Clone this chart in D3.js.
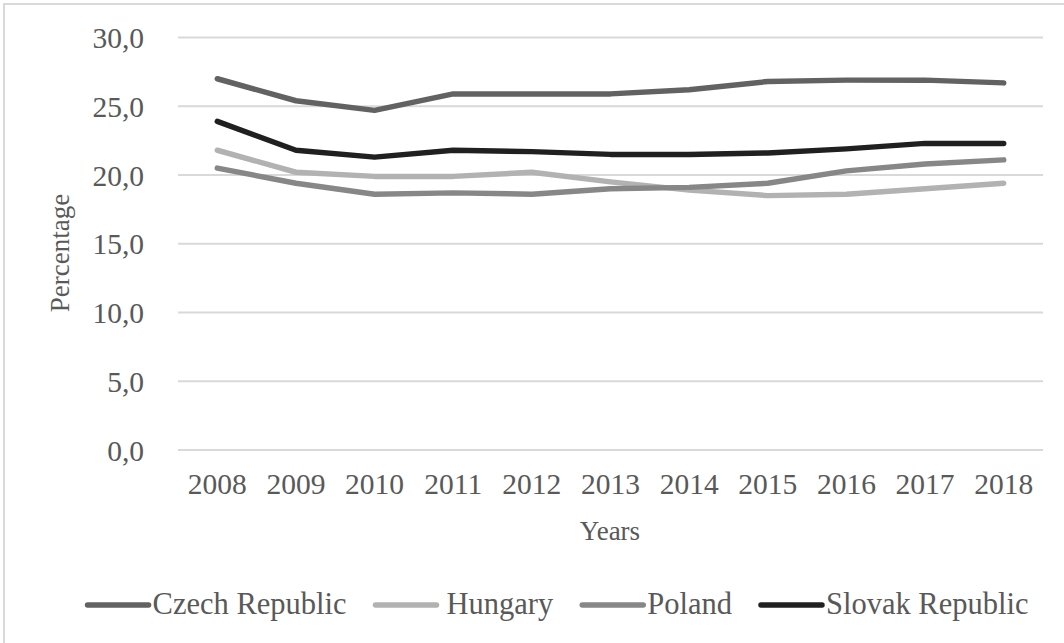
<!DOCTYPE html>
<html>
<head>
<meta charset="utf-8">
<script src="https://cdn.jsdelivr.net/npm/d3@7"></script>
<style>
  body { margin: 0; background: #fff; }
  text { font-family: "Liberation Serif", "Times New Roman", serif; fill: #595959; }
</style>
</head>
<body>
<div id="chart"></div>
<script>
const years = ["2008", "2009", "2010", "2011", "2012", "2013", "2014", "2015", "2016", "2017", "2018"];
const czech = [27.0, 25.4, 24.7, 25.9, 25.9, 25.9, 26.2, 26.8, 26.9, 26.9, 26.7];
const hungary = [21.8, 20.2, 19.9, 19.9, 20.2, 19.5, 18.9, 18.5, 18.6, 19.0, 19.4];
const poland = [20.5, 19.4, 18.6, 18.7, 18.6, 19.0, 19.1, 19.4, 20.3, 20.8, 21.1];
const slovak = [23.9, 21.8, 21.3, 21.8, 21.7, 21.5, 21.5, 21.6, 21.9, 22.3, 22.3];
const yTicks = [0, 5, 10, 15, 20, 25, 30];

const series = [
  {name: "Czech Republic", values: czech, color: "#626262"},
  {name: "Hungary", values: hungary, color: "#b2b2b2"},
  {name: "Poland", values: poland, color: "#878787"},
  {name: "Slovak Republic", values: slovak, color: "#202020"}
];

const W = 1064, H = 643;
const svg = d3.select("#chart").append("svg").attr("width", W).attr("height", H);

// outer chart frame (only left and top edges are in view)
svg.append("path")
  .attr("d", "M4,643 L4,4 L1064,4")
  .attr("fill", "none").attr("stroke", "#d9d9d9").attr("stroke-width", 2);

const x = d3.scaleBand().domain(years).range([178, 1043]);
const y = d3.scaleLinear().domain([0, 30]).range([450, 37.5]);

// gridlines
svg.append("g").selectAll("line").data(yTicks).enter().append("line")
  .attr("x1", 178).attr("x2", 1043)
  .attr("y1", d => y(d)).attr("y2", d => y(d))
  .attr("stroke", "#d9d9d9").attr("stroke-width", 2);

const fmt = d => d3.format(".1f")(d).replace(".", ",");

const yAxis = svg.append("g").attr("transform", "translate(144,0)")
  .call(d3.axisLeft(y).tickValues(yTicks).tickFormat(fmt).tickSize(0).tickPadding(0));
yAxis.select(".domain").remove();
yAxis.selectAll("text").style("font-size", "29.5px").attr("dy", "0.34em")
  .style("font-family", "Liberation Serif").attr("fill", "#595959");

const xAxis = svg.append("g").attr("transform", "translate(0,494)")
  .call(d3.axisBottom(x).tickSize(0).tickPadding(0));
xAxis.select(".domain").remove();
xAxis.selectAll("text").style("font-size", "29.5px").attr("dy", "0")
  .style("font-family", "Liberation Serif").attr("fill", "#595959");

svg.append("text")
  .attr("transform", "translate(69,253) rotate(-90)")
  .attr("text-anchor", "middle").style("font-size", "27px")
  .text("Percentage");

svg.append("text")
  .attr("x", 610).attr("y", 540)
  .attr("text-anchor", "middle").style("font-size", "27px")
  .text("Years");

const line = d3.line()
  .x((d, i) => x(years[i]) + x.bandwidth() / 2)
  .y(d => y(d));

svg.append("g").selectAll("path").data(series).enter().append("path")
  .attr("d", d => line(d.values))
  .attr("fill", "none")
  .attr("stroke", d => d.color)
  .attr("stroke-width", 5.5)
  .attr("stroke-linecap", "round")
  .attr("stroke-linejoin", "round");

// legend
const legend = svg.append("g");
const items = legend.selectAll("g").data(series).enter().append("g");
items.append("line")
  .attr("x1", 2).attr("x2", 63).attr("y1", 0).attr("y2", 0)
  .attr("stroke", d => d.color).attr("stroke-width", 5.5).attr("stroke-linecap", "round");
items.append("text")
  .attr("x", (d, i) => i === 1 ? 73 : 67).attr("y", 9)
  .style("font-size", "30.5px")
  .text(d => d.name);

let cx = 0;
items.each(function(d, i) {
  const g = d3.select(this);
  g.attr("transform", `translate(${cx},0)`);
  cx += (i === 1 ? 73 : 67) + g.select("text").node().getComputedTextLength() + 27;
});
const total = cx - 27;
legend.attr("transform", `translate(${557 - total / 2},605)`);
</script>
</body>
</html>
